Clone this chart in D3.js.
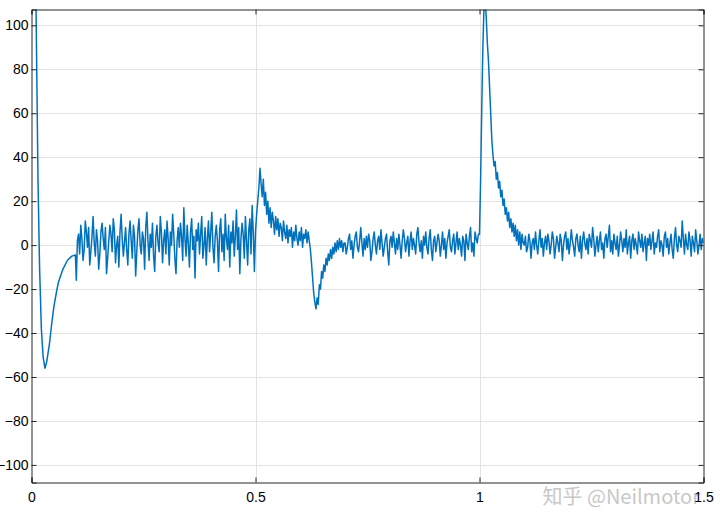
<!DOCTYPE html>
<html>
<head>
<meta charset="utf-8">
<script src="https://cdn.jsdelivr.net/npm/d3@7"></script>
<style>
  body { margin: 0; background: #fff; }
  svg { display: block; }
</style>
</head>
<body>
<div id="chart"></div>
<script>
// start-up transient, explicit (t, value) pairs
var startT = [0, 0.005, 0.01, 0.0145, 0.018, 0.022, 0.026, 0.03, 0.034, 0.04, 0.045, 0.05, 0.056, 0.06, 0.07, 0.08, 0.09, 0.098];
var startV = [260, 200, 110, 30, -10, -38, -51, -56, -53, -45, -36, -28, -21, -17, -11, -7, -5, -4.5];

// sampled segments, step 0.0025 s
var step = 0.0025;

var noise1Start = 0.1;
var noise1 = [
  -16, 2, 5, -4, 9, 3, -7, -2, 11, 6, -1, 8, -9, -3, 4, 13, 1, -5, 7, 2,
  -11, -4, 6, 10, 3, -2, 8, -13, -6, 2, 9, 5, -3, 12, 7, -8, 0, 4, -10, 6,
  14, 3, -5, 1, 8, -2, -9, 5, 11, 2, -6, 9, 4, -14, -3, 7, 12, 0, -4, 6,
  3, -11, 8, 15, 2, -7, 5, -1, 10, -5, -12, 4, 9, 1, -3, 13, 6, -8, 2, 7,
  -4, 11, 3, -9, 6, 0, 14, 5, -6, -13, 2, 8, -1, 10, 4, -7, 17, 3, -5, 9,
  1, -10, 6, 12, -2, 4, -15, 7, 2, 10, -4, 5, 13, -6, 0, 8, -9, 3, 11, -3,
  6, 15, -1, -8, 4, 9, 2, -12, 7, 12, -3, 5, -7, 14, 3, -2, 9, -10, 6, 1,
  11, -5, 4, 16, -2, 8, -13, 3, 10, 5, -6, 13, 2, -9, 7, 12, -4, 18, 6, -12
];

var bumpStart = 0.5;
var bump = [
  6, 14, 20, 26, 35, 28, 22, 30, 18, 24,
  14, 20, 10, 17, 8, 15, 11, 5, 13, 7,
  12, 4, 10, 8, 2, 11, 6, 3, 9, 1,
  7, 4, 8, -1, 6, 2, 9, 3, 0, 6,
  2, 8, -1, 5, 3, 7, 1, 6, 2, -2,
  -8, -15, -22, -26, -29, -24, -27, -18, -20, -12,
  -15, -9, -12, -6, -9, -4, -7, -2, -6, -1,
  -4, 1, -3, 2, -2, 3, -1, 2, -3, 1
];

var noise2Start = 0.7;
var noise2 = [
  1, -4, -1, 3, 5, -2, 2, -6, 0, 4, 6, -1, -3, 2, 8, 1, -5, 3, -2, 4,
  -1, 5, 2, -7, -3, 3, 6, 0, -4, 2, 4, -2, 7, 1, -5, -1, 3, 5, -3, -9,
  2, 4, -1, 6, 1, -4, 3, -2, 5, 0, -6, 2, 7, 3, -3, 1, 4, -5, 2, 6,
  -2, 3, 0, -4, 5, 8, 1, -3, 2, -6, 4, 0, 6, -1, -4, 3, 7, -2, -7, 2,
  4, -3, 1, 5, 2, -5, 0, 6, -2, 3, -6, 1, 4, 7, -1, -3, 2, 5, -4, 1,
  6, -2, 3, 0, -5, 4, 2, -7, 5, 1, -2, 4, 8, -3, 1, -5, 6, 3, 1, 5
];

var spikeStart = 1.0;
var spike = [
  5, 30, 62, 90, 108, 112, 104, 92, 84, 72,
  60, 48, 41, 36, 38, 30, 33, 26, 29, 22,
  25, 18, 21, 14, 17, 11, 15, 8, 12, 6,
  10, 4, 9, 2, 7, 0, 6, -2, 5, 1
];

var noise3Start = 1.1;
var noise3 = [
  0, 4, -3, -1, 5, 2, -6, 1, 3, -2, 6, 0, -4, 2, 7, -1, 3, -5, 1, 4,
  -2, 5, 2, -4, 0, 6, 3, -6, -1, 4, 1, -3, 5, 2, -7, 0, 4, 6, -2, 3,
  -4, 1, 7, 2, -1, -5, 3, 5, 0, -3, 4, -6, 2, 6, 1, -2, 3, -4, 5, 2,
  -1, 8, 3, -5, 0, 4, -3, 2, 6, -2, 1, -6, 3, 5, -1, 4, 9, -3, 2, -4,
  5, 1, -2, 4, -5, 0, 6, 2, -3, 3, -1, 7, -4, 1, 4, -6, 2, 5, -2, 3,
  0, -4, 6, 2, -1, 5, -3, 1, 4, -7, 3, 0, 5, -2, 2, 6, -4, 1, -1, 4,
  7, -3, 2, 0, -5, 4, 6, -1, 3, -4, 1, 5, -2, -6, 3, 8, 0, -3, 4, 2,
  -1, 11, 3, -4, 5, 0, -2, 6, 2, -5, 4, 1, -3, 7, 2, -4, 0, 5, -2, 3, 1
];

var xTicks = [0, 0.5, 1, 1.5];
var xTickLabels = ["0", "0.5", "1", "1.5"];
var yTicks = [-100, -80, -60, -40, -20, 0, 20, 40, 60, 80, 100];

var watermark = "知乎 @Neilmotor";

renderChart();

function renderChart() {
  // ---- build points
  var points = [];
  startT.forEach(function(t, i) { points.push([t, startV[i]]); });
  [[noise1Start, noise1], [bumpStart, bump], [noise2Start, noise2],
   [spikeStart, spike], [noise3Start, noise3]].forEach(function(seg) {
    seg[1].forEach(function(v, i) { points.push([seg[0] + i * step, v]); });
  });

  var width = 720, height = 530;
  var plotLeft = 31.5, plotRight = 703.5, plotTop = 9.5, plotBottom = 482.5;

  var x = d3.scaleLinear().domain([0, 1.5]).range([plotLeft, plotRight]);
  var y = d3.scaleLinear().domain([-108, 107.2]).range([plotBottom, plotTop]);

  var svg = d3.select("#chart").append("svg")
    .attr("width", width)
    .attr("height", height);

  svg.append("defs").append("clipPath")
    .attr("id", "plotclip")
    .append("rect")
    .attr("x", plotLeft).attr("y", plotTop)
    .attr("width", plotRight - plotLeft).attr("height", plotBottom - plotTop);

  // grid
  var grid = svg.append("g").attr("class", "grid");
  grid.selectAll("line.gy")
    .data(yTicks)
    .enter().append("line")
    .attr("class", "gy")
    .attr("x1", plotLeft).attr("x2", plotRight)
    .attr("y1", function(d) { return Math.round(y(d)) + 0.5; })
    .attr("y2", function(d) { return Math.round(y(d)) + 0.5; })
    .attr("stroke", "#e3e3e3")
    .attr("stroke-width", 1);

  grid.selectAll("line.gx")
    .data(xTicks.slice(1, -1))
    .enter().append("line")
    .attr("class", "gx")
    .attr("y1", plotTop).attr("y2", plotBottom)
    .attr("x1", function(d) { return Math.round(x(d)) + 0.5; })
    .attr("x2", function(d) { return Math.round(x(d)) + 0.5; })
    .attr("stroke", "#e3e3e3")
    .attr("stroke-width", 1);

  // signal
  var line = d3.line()
    .x(function(d) { return x(d[0]); })
    .y(function(d) { return y(d[1]); });

  svg.append("path")
    .datum(points)
    .attr("clip-path", "url(#plotclip)")
    .attr("d", line)
    .attr("fill", "none")
    .attr("stroke", "#0072BD")
    .attr("stroke-width", 1.5)
    .attr("stroke-linejoin", "round");

  // watermark
  svg.append("text")
    .attr("x", 700)
    .attr("y", 504)
    .attr("text-anchor", "end")
    .style("font-family", "'Noto Sans CJK SC', 'Noto Sans', sans-serif")
    .style("font-size", "20px")
    .style("fill", "#c8c8c8")
    .text(watermark);

  // axes
  var font = "'Liberation Sans', Arial, sans-serif";

  var axB = svg.append("g")
    .attr("transform", "translate(0," + plotBottom + ")")
    .call(d3.axisBottom(x).tickValues(xTicks)
      .tickFormat(function(d, i) { return xTickLabels[i]; })
      .tickSize(-5).tickPadding(10));

  var axT = svg.append("g")
    .attr("transform", "translate(0," + plotTop + ")")
    .call(d3.axisTop(x).tickValues(xTicks).tickFormat("").tickSize(-5));

  var axL = svg.append("g")
    .attr("transform", "translate(" + plotLeft + ",0)")
    .call(d3.axisLeft(y).tickValues(yTicks).tickSize(-5).tickPadding(3));

  var axR = svg.append("g")
    .attr("transform", "translate(" + plotRight + ",0)")
    .call(d3.axisRight(y).tickValues(yTicks).tickFormat("").tickSize(-5));

  [axB, axT, axL, axR].forEach(function(g) {
    g.select(".domain").attr("stroke", "#262626").attr("stroke-width", 1);
    g.selectAll(".tick line").attr("stroke", "#262626");
    g.selectAll("text")
      .style("font-family", font)
      .style("font-size", "14px")
      .attr("fill", "#000");
  });
}
</script>
</body>
</html>
